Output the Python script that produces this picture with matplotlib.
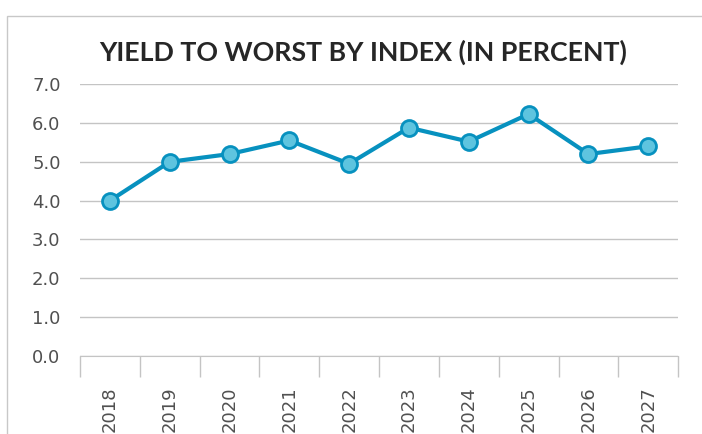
import matplotlib.pyplot as plt
from matplotlib.patches import Rectangle
import numpy as np

years = ["2018", "2019", "2020", "2021", "2022", "2023", "2024", "2025", "2026", "2027"]
yields = [4.0, 5.0, 5.2, 5.55, 4.95, 5.88, 5.52, 6.23, 5.2, 5.4]

plt.rcParams['font.family'] = ['Lato', 'DejaVu Sans']

fig = plt.figure(figsize=(7.02, 4.34), dpi=100)
ax = fig.add_axes([0.114, 0.180, 0.852, 0.626])

x = np.arange(len(years))
ax.plot(x, yields, color="#0791bf", lw=3, marker="o", ms=11.5,
        mfc="#5ec4df", mec="#0791bf", mew=2, zorder=3)

ax.set_xlim(-0.5, len(years) - 0.5)
ax.set_ylim(0, 7)
ax.set_yticks(np.arange(0, 7.1, 1))
ax.set_yticklabels([f"{v:.1f}" for v in np.arange(0, 7.1, 1)])
ax.grid(True, axis="y", color="#c4c4c4", lw=1)
ax.set_axisbelow(True)

ax.set_xticks(x)
ax.set_xticklabels(years, rotation=90)
ax.set_xticks(np.arange(-0.5, len(years), 1), minor=True)
ax.tick_params(axis="x", which="major", length=0, pad=22, labelsize=13, labelcolor="#505050")
ax.tick_params(axis="x", which="minor", length=15, color="#c4c4c4", width=1)
ax.tick_params(axis="y", length=0, pad=14, labelsize=13, labelcolor="#505050")
for lbl in ax.get_xticklabels() + ax.get_yticklabels():
    lbl.set_family("DejaVu Sans")

for s in ["top", "right", "left"]:
    ax.spines[s].set_visible(False)
ax.spines["bottom"].set_color("#c4c4c4")

fig.text(0.517, 0.88, "YIELD TO WORST BY INDEX (IN PERCENT)", ha="center", va="center",
         fontsize=19.3, fontweight="bold", color="#262626")

fig.patches.append(Rectangle((7 / 702, -0.1), 1.0, 1 - 16 / 434 + 0.1, transform=fig.transFigure,
                             fill=False, ec="#c8c8c8", lw=1))

fig.savefig("out.png", dpi=100)
